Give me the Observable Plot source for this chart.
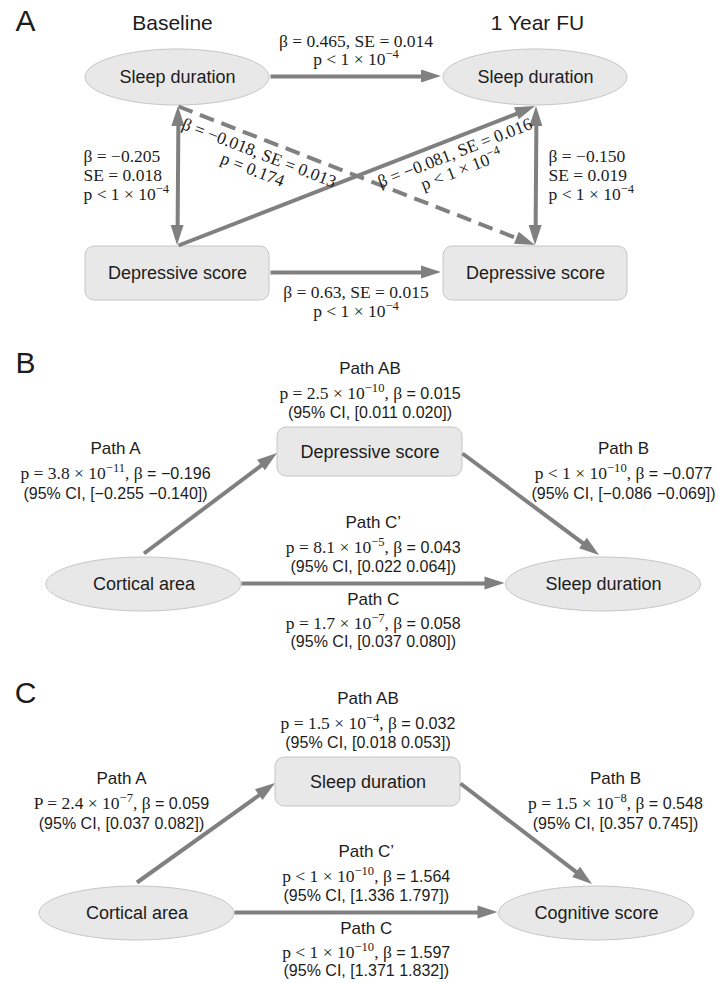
<!DOCTYPE html>
<html>
<head>
<meta charset="utf-8">
<script src="https://cdn.jsdelivr.net/npm/d3@7"></script>
<script src="https://cdn.jsdelivr.net/npm/@observablehq/plot@0.6"></script>
<style>
  html, body { margin: 0; padding: 0; background: #fff; }
  #chart svg { display: block; }
</style>
</head>
<body>
<div id="chart"></div>
<script>
// ================= DATA =================
// Panel letters and panel A (cross-lagged model)
const panelLetters = ["A", "B", "C"];
const timepoints = ["Baseline", "1 Year FU"];
const measuresA = ["Sleep duration", "Depressive score"];
// each path: [time, measure] -> [time, measure]
const fromA = [[0, 0], [0, 1], [0, 0], [1, 0], [0, 0], [0, 1]];
const toA   = [[1, 0], [1, 1], [0, 1], [1, 1], [1, 1], [1, 0]];
const kindA = ["stability", "stability", "covariance", "covariance", "crossLag", "crossLag"];
const betaA = ["0.465", "0.63", "−0.205", "−0.150", "−0.018", "−0.081"];
const seA   = ["0.014", "0.015", "0.018", "0.019", "0.013", "0.016"];
const pA    = ["p < 1 × 10^{−4}", "p < 1 × 10^{−4}", "p < 1 × 10^{−4}", "p < 1 × 10^{−4}", "p = 0.174", "p < 1 × 10^{−4}"];
const significantA = [true, true, true, true, false, true];

// Panels B and C (mediation models)
const predictors = ["Cortical area", "Cortical area"];
const mediators  = ["Depressive score", "Sleep duration"];
const outcomes   = ["Sleep duration", "Cognitive score"];
const pathNames  = ["Path A", "Path B", "Path AB", "Path C’", "Path C"];
const pValueB = ["p = 3.8 × 10^{−11}", "p < 1 × 10^{−10}", "p = 2.5 × 10^{−10}", "p = 8.1 × 10^{−5}", "p = 1.7 × 10^{−7}"];
const betaB   = ["−0.196", "−0.077", "0.015", "0.043", "0.058"];
const ciB     = ["[−0.255 −0.140]", "[−0.086 −0.069]", "[0.011 0.020]", "[0.022 0.064]", "[0.037 0.080]"];
const pValueC = ["P = 2.4 × 10^{−7}", "p = 1.5 × 10^{−8}", "p = 1.5 × 10^{−4}", "p < 1 × 10^{−10}", "p < 1 × 10^{−10}"];
const betaC   = ["0.059", "0.548", "0.032", "1.564", "1.597"];
const ciC     = ["[0.037 0.082]", "[0.357 0.745]", "[0.018 0.053]", "[1.336 1.797]", "[1.371 1.832]"];

// ================= LAYOUT & STYLE =================
const W = 718, H = 983;
const SANS = "'Liberation Sans', Arial, Helvetica, sans-serif";
const SERIF = "'Liberation Serif', 'Times New Roman', serif";
const EDGE = "#808080", NODE_FILL = "#e8e8e8", NODE_STROKE = "#c6c6c6", INK = "#1c1c1c";
const HEAD_L = 20, HEAD_HW = 6.5, EDGE_W = 4;

const letterPos = [[25, 21], [25, 363], [25, 693]];
const layoutA = {colX: [177, 535], rowY: [77, 273], ell: {rx: 92, ry: 28}, box: {hw: 92, hh: 27}, headerDy: -54};
const layoutBC = [
  {pred: [143.5, 584], med: [369.5, 451.5], out: [603, 584], labelX: [115, 623]},
  {pred: [136.5, 913], med: [367.5, 781.5], out: [596, 913], labelX: [121, 615]}
];
const geomBC = {ell: {rx: 97.5, ry: 27}, box: {hw: 92.5, hh: 24.5}};

// ================= BUILD MARK TABLES =================
const ellipses = [], boxes = [], solidLinks = [], dashedLinks = [], heads = [];
const letters = [], headers = [], nodeLabels = [], titles = [], ciLines = [], mathMid = [], mathStart = [];

function addEdge(p, q, headMode, dashed) {
  const dx = q[0] - p[0], dy = q[1] - p[1], len = Math.hypot(dx, dy);
  const ux = dx / len, uy = dy / len;
  let a = p, b = q;
  if (headMode === "end" || headMode === "both") {
    heads.push({x: q[0], y: q[1], ux, uy});
    b = [q[0] - ux * (HEAD_L - 3), q[1] - uy * (HEAD_L - 3)];
  }
  if (headMode === "both") {
    heads.push({x: p[0], y: p[1], ux: -ux, uy: -uy});
    a = [p[0] + ux * (HEAD_L - 3), p[1] + uy * (HEAD_L - 3)];
  }
  (dashed ? dashedLinks : solidLinks).push({x1: a[0], y1: a[1], x2: b[0], y2: b[1]});
}

panelLetters.forEach((l, i) => letters.push({x: letterPos[i][0], y: letterPos[i][1], text: l}));

// ---- Panel A ----
timepoints.forEach((t, ti) => headers.push({x: layoutA.colX[ti] - (ti ? -2 : 5), y: layoutA.rowY[0] + layoutA.headerDy, text: t}));
timepoints.forEach((t, ti) => measuresA.forEach((m, mi) => {
  const cx = layoutA.colX[ti], cy = layoutA.rowY[mi];
  if (mi === 0) ellipses.push({cx, cy, rx: layoutA.ell.rx, ry: layoutA.ell.ry});
  else boxes.push({x1: cx - layoutA.box.hw, x2: cx + layoutA.box.hw, y1: cy - layoutA.box.hh, y2: cy + layoutA.box.hh});
  nodeLabels.push({x: cx, y: cy, text: m});
}));
function halfH(mi) { return mi === 0 ? layoutA.ell.ry : layoutA.box.hh; }
kindA.forEach((kind, i) => {
  const [t0, m0] = fromA[i], [t1, m1] = toA[i];
  const x0 = layoutA.colX[t0], y0 = layoutA.rowY[m0], x1 = layoutA.colX[t1], y1 = layoutA.rowY[m1];
  let p, q;
  if (m0 === m1) {            // horizontal
    p = [x0 + layoutA.ell.rx + 1, y0 - 1];
    q = [x1 - layoutA.ell.rx - 2, y1 - 1];
  } else {                    // vertical / diagonal : bottom of upper node, top of lower node
    const up0 = y0 < y1;
    p = [x0 + 1, y0 + (up0 ? 1 : -1) * (halfH(m0) + 1)];
    q = [x1, y1 + (up0 ? -1 : 1) * (halfH(m1) + 1)];
  }
  addEdge(p, q, kind === "covariance" ? "both" : "end", !significantA[i]);

  if (kind === "stability") {
    const mx = (p[0] + q[0]) / 2, my = p[1];
    const offs = m0 === 0 ? [-35, -17] : [20, 39];
    mathMid.push({x: mx, y: my + offs[0], text: `β = ${betaA[i]}, SE = ${seA[i]}`, rotate: 0});
    mathMid.push({x: mx, y: my + offs[1], text: pA[i], rotate: 0});
  } else if (kind === "covariance") {
    const tx = t0 === 0 ? x0 - 94 : x0 + 13, my = (p[1] + q[1]) / 2;
    [`β = ${betaA[i]}`, `SE = ${seA[i]}`, pA[i]].forEach((s, k) => mathStart.push({x: tx, y: my - 20 + k * 19, text: s}));
  } else {
    // label sits below the line, near the left-hand column
    const dx = q[0] - p[0], dy = q[1] - p[1], len = Math.hypot(dx, dy), ux = dx / len, uy = dy / len;
    const f = dy > 0 ? 0.24 : 0.76;
    const px = p[0] + dx * f, py = p[1] + dy * f;
    const nx = -uy, ny = ux;
    const ang = Math.atan2(dy, dx) * 180 / Math.PI;
    mathMid.push({x: px + nx * 14, y: py + ny * 14, text: `β = ${betaA[i]}, SE = ${seA[i]}`, rotate: ang});
    mathMid.push({x: px + nx * 32, y: py + ny * 32, text: pA[i], rotate: ang});
  }
});

// ---- Panels B and C ----
[[pValueB, betaB, ciB], [pValueC, betaC, ciC]].forEach(([pv, be, ci], k) => {
  const L = layoutBC[k], E = geomBC.ell, B = geomBC.box;
  ellipses.push({cx: L.pred[0], cy: L.pred[1], rx: E.rx, ry: E.ry});
  ellipses.push({cx: L.out[0], cy: L.out[1], rx: E.rx, ry: E.ry});
  boxes.push({x1: L.med[0] - B.hw, x2: L.med[0] + B.hw, y1: L.med[1] - B.hh, y2: L.med[1] + B.hh});
  nodeLabels.push({x: L.pred[0], y: L.pred[1], text: predictors[k]});
  nodeLabels.push({x: L.med[0], y: L.med[1], text: mediators[k]});
  nodeLabels.push({x: L.out[0], y: L.out[1], text: outcomes[k]});

  const cStart = [L.pred[0] + E.rx, L.pred[1] - 1], cEnd = [L.out[0] - E.rx - 1, L.out[1] - 1];
  addEdge([L.pred[0], L.pred[1] - E.ry - 4], [L.med[0] - B.hw, L.med[1] + 1.5], "end", false);
  addEdge([L.med[0] + B.hw, L.med[1] + 1.5], [L.out[0] - 4, L.out[1] - E.ry - 2], "end", false);
  addEdge(cStart, cEnd, "end", false);

  const cx = (cStart[0] + cEnd[0]) / 2;
  const anchors = [
    {x: L.labelX[0], ys: [0, 25, 45].map(d => L.med[1] - 3.5 + d)},
    {x: L.labelX[1], ys: [0, 25, 45].map(d => L.med[1] - 3.5 + d)},
    {x: L.med[0], ys: [-59, -34, -15].map(d => L.med[1] - B.hh + d)},
    {x: cx, ys: [-62, -37, -18].map(d => L.pred[1] + d)},
    {x: cx, ys: [15, 39, 57].map(d => L.pred[1] + d)}
  ];
  pathNames.forEach((name, i) => {
    const a = anchors[i];
    titles.push({x: a.x, y: a.ys[0], text: name});
    mathMid.push({x: a.x, y: a.ys[1], text: `${pv[i]}, β |= ${be[i]}`, rotate: 0});
    ciLines.push({x: a.x, y: a.ys[2], text: `(95% CI, ${ci[i]})`});
  });
});

// ================= CUSTOM RENDER MARKS =================
function ellipseMark(index, scales) {
  const sx = scales.x || (v => v), sy = scales.y || (v => v);
  const g = d3.create("svg:g").attr("fill", NODE_FILL).attr("stroke", NODE_STROKE).attr("stroke-width", 1);
  for (const d of ellipses) {
    g.append("ellipse")
      .attr("cx", sx(d.cx)).attr("cy", sy(d.cy))
      .attr("rx", Math.abs(sx(d.cx + d.rx) - sx(d.cx)))
      .attr("ry", Math.abs(sy(d.cy + d.ry) - sy(d.cy)));
  }
  return g.node();
}
function headMark(index, scales) {
  const sx = scales.x || (v => v), sy = scales.y || (v => v);
  const g = d3.create("svg:g").attr("fill", EDGE);
  for (const h of heads) {
    const tx = sx(h.x), ty = sy(h.y);
    let ux = sx(h.x + h.ux) - tx, uy = sy(h.y + h.uy) - ty;
    const n = Math.hypot(ux, uy); ux /= n; uy /= n;
    const bx = tx - ux * HEAD_L, by = ty - uy * HEAD_L, nx = -uy, ny = ux;
    g.append("path").attr("d",
      `M${tx},${ty}L${bx + nx * HEAD_HW},${by + ny * HEAD_HW}L${bx - nx * HEAD_HW},${by - ny * HEAD_HW}Z`);
  }
  return g.node();
}

// ================= PLOT =================
const plot = Plot.plot({
  width: W, height: H, margin: 0,
  x: {domain: [0, W], range: [0, W], axis: null},
  y: {domain: [0, H], range: [0, H], axis: null},
  style: {background: "white", color: INK},
  marks: [
    ellipseMark,
    Plot.rect(boxes, {x1: "x1", x2: "x2", y1: "y1", y2: "y2", fill: NODE_FILL, stroke: NODE_STROKE, strokeWidth: 1, rx: 9}),
    Plot.link(solidLinks, {x1: "x1", y1: "y1", x2: "x2", y2: "y2", stroke: EDGE, strokeWidth: EDGE_W}),
    Plot.link(dashedLinks, {x1: "x1", y1: "y1", x2: "x2", y2: "y2", stroke: EDGE, strokeWidth: EDGE_W, strokeDasharray: "15,8"}),
    headMark,
    Plot.text(letters, {x: "x", y: "y", text: "text", fontSize: 30, fontFamily: SANS, fill: INK}),
    Plot.text(headers, {x: "x", y: "y", text: "text", fontSize: 21, fontFamily: SANS, fill: INK}),
    Plot.text(nodeLabels, {x: "x", y: "y", text: "text", fontSize: 18, fontFamily: SANS, fill: INK}),
    Plot.text(titles, {x: "x", y: "y", text: "text", fontSize: 17, fontFamily: SANS, fill: INK}),
    Plot.text(ciLines, {x: "x", y: "y", text: "text", fontSize: 16, fontFamily: SANS, fill: INK}),
    Plot.text(mathMid, {x: "x", y: "y", text: "text", rotate: "rotate", fontSize: 17.5, fontFamily: SERIF, fill: INK}),
    Plot.text(mathStart, {x: "x", y: "y", text: "text", textAnchor: "start", fontSize: 17.5, fontFamily: SERIF, fill: INK})
  ]
});

// rich text: ^{...} superscript, | toggles sans-serif
function richify(root) {
  root.querySelectorAll("text").forEach((el) => {
    const s = el.textContent;
    if (!s.includes("^{") && !s.includes("|")) return;
    const parts = []; let buf = "", sans = false, i = 0;
    const flush = () => { if (buf) parts.push({t: buf, sup: false, sans}); buf = ""; };
    while (i < s.length) {
      if (s.startsWith("^{", i)) { flush(); const j = s.indexOf("}", i); parts.push({t: s.slice(i + 2, j), sup: true, sans}); i = j + 1; }
      else if (s[i] === "|") { flush(); sans = !sans; i++; }
      else { buf += s[i++]; }
    }
    flush();
    while (el.firstChild) el.removeChild(el.firstChild);
    for (const p of parts) {
      const ts = document.createElementNS("http://www.w3.org/2000/svg", "tspan");
      ts.textContent = p.t;
      if (p.sup) { ts.setAttribute("baseline-shift", "super"); ts.style.fontSize = "0.72em"; }
      if (p.sans) { ts.setAttribute("font-family", SANS); ts.style.fontSize = "0.92em"; }
      el.appendChild(ts);
    }
  });
}
richify(plot);
document.getElementById("chart").appendChild(plot);
</script>
</body>
</html>
